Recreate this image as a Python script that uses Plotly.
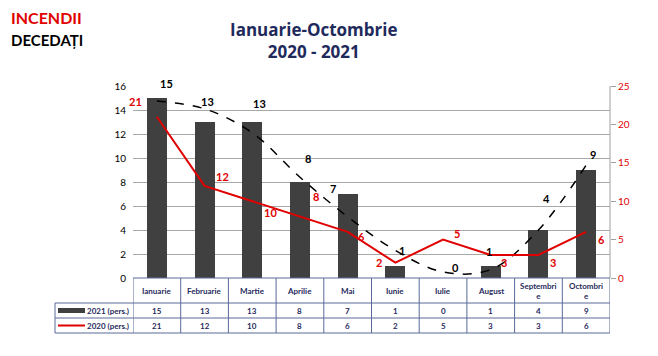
import plotly.graph_objects as go

months = ["Ianuarie", "Februarie", "Martie", "Aprilie", "Mai", "Iunie", "Iulie", "August", "Septembri<br>e", "Octombri<br>e"]
deaths_2021 = [15, 13, 13, 8, 7, 1, 0, 1, 4, 9]
deaths_2020 = [21, 12, 10, 8, 6, 2, 5, 3, 3, 6]
# polynomial trendline of 2021
trend_2021 = [14.75, 14.1, 12.1, 8.4, 5.1, 2.3, 0.5, 0.7, 4.0, 9.4]
left_ticks = [0, 2, 4, 6, 8, 10, 12, 14, 16]
right_ticks = [0, 5, 10, 15, 20, 25]
series_names = ["2021 (pers.)", "2020 (pers.)"]

# label offsets (px) for the data labels
off_2021 = [(10, 15), (3, 21), (7, 19), (8, 24), (-15, 6), (7, 16), (12, 11), (-2, 15), (8, 32), (7, 16)]
off_2020 = [(-21, 15), (18, 9), (18, -11), (16, 20), (14, -5), (-16, 0), (14, 6), (13, -8), (15, -8), (15, -8)]

NAVY = "#1f2a5c"
RED = "#e00000"
BAR = "#404040"
FONT = "Lato"

x = list(range(len(months)))

fig = go.Figure()
fig.add_trace(go.Bar(x=x, y=deaths_2021, width=0.42, marker=dict(color=BAR, line=dict(width=0)),
                     yaxis="y", showlegend=False))
fig.add_trace(go.Scatter(x=x, y=trend_2021, mode="lines", line=dict(color="black", width=1.5, dash="dash", shape="spline", smoothing=1.0),
                         yaxis="y", showlegend=False))
fig.add_trace(go.Scatter(x=x, y=deaths_2020, mode="lines", line=dict(color=RED, width=2),
                         yaxis="y2", showlegend=False))

ann = []
for i in x:
    dx, dy = off_2021[i]
    ann.append(dict(x=i, y=deaths_2021[i], xref="x", yref="y", text=str(deaths_2021[i]), showarrow=False,
                    xshift=dx, yshift=dy, font=dict(family=FONT, size=11, color="black")))
    dx, dy = off_2020[i]
    ann.append(dict(x=i, y=deaths_2020[i], xref="x", yref="y2", text=str(deaths_2020[i]), showarrow=False,
                    xshift=dx, yshift=dy, font=dict(family=FONT, size=11, color=RED)))

# table geometry in paper coords (plot: 192px high, 477px wide)
H = 192.0
W = 477.0
y_hdr = -25 / H
y_r1 = -40 / H
y_r2 = -55 / H
x_left = -78 / W

for i, m in enumerate(months):
    ann.append(dict(x=i, y=(0 + y_hdr) / 2, xref="x", yref="paper", text=m, showarrow=False,
                    font=dict(family=FONT, size=8, color=NAVY), yanchor="middle"))
    ann.append(dict(x=i, y=(y_hdr + y_r1) / 2, xref="x", yref="paper", text=str(deaths_2021[i]), showarrow=False,
                    font=dict(family=FONT, size=8, color=NAVY), yanchor="middle"))
    ann.append(dict(x=i, y=(y_r1 + y_r2) / 2, xref="x", yref="paper", text=str(deaths_2020[i]), showarrow=False,
                    font=dict(family=FONT, size=8, color=NAVY), yanchor="middle"))

ann.append(dict(x=-2 / W, y=(y_hdr + y_r1) / 2, xref="paper", yref="paper", text=series_names[0], showarrow=False,
                xanchor="right", yanchor="middle", font=dict(family=FONT, size=8, color=NAVY)))
ann.append(dict(x=-2 / W, y=(y_r1 + y_r2) / 2, xref="paper", yref="paper", text=series_names[1], showarrow=False,
                xanchor="right", yanchor="middle", font=dict(family=FONT, size=8, color=NAVY)))

# titles (positions relative to plot area)
fig_title = [
    dict(x=(314 - 133) / W, y=(278 - 40) / H, text="<b>Ianuarie-Octombrie<br>2020 - 2021</b>", size=17, color=NAVY,
         xanchor="center", family="Open Sans"),
    dict(x=(9 - 133) / W, y=(278 - 17) / H, text="<b>INCENDII</b>", size=16, color="#e00000", xanchor="left", family=FONT),
    dict(x=(9 - 133) / W, y=(278 - 40) / H, text="<b>DECEDAȚI</b>", size=15, color="black", xanchor="left", family=FONT),
]
for t in fig_title:
    ann.append(dict(x=t["x"], y=t["y"], xref="paper", yref="paper", text=t["text"], showarrow=False,
                    xanchor=t["xanchor"], yanchor="middle",
                    font=dict(family=t["family"], size=t["size"], color=t["color"])))

shapes = []
BORDER = "#5a6a9a"
# vertical lines of table
for b in [i - 0.5 for i in range(len(months) + 1)]:
    shapes.append(dict(type="line", xref="x", yref="paper", x0=b, x1=b, y0=0, y1=y_r2, line=dict(color=BORDER, width=1)))
shapes.append(dict(type="line", xref="paper", yref="paper", x0=x_left, x1=x_left, y0=y_hdr, y1=y_r2, line=dict(color=BORDER, width=1)))
# horizontal lines
shapes.append(dict(type="line", xref="paper", yref="paper", x0=0, x1=1, y0=0, y1=0, line=dict(color=BORDER, width=1)))
for yy in [y_hdr, y_r1, y_r2]:
    shapes.append(dict(type="line", xref="paper", yref="paper", x0=x_left, x1=1, y0=yy, y1=yy, line=dict(color=BORDER, width=1)))
# legend swatches
shapes.append(dict(type="rect", xref="paper", yref="paper", x0=(58 - 133) / W, x1=(85 - 133) / W,
                   y0=(y_hdr + y_r1) / 2 - 2.5 / H, y1=(y_hdr + y_r1) / 2 + 2.5 / H, fillcolor=BAR, line=dict(width=0)))
shapes.append(dict(type="line", xref="paper", yref="paper", x0=(58 - 133) / W, x1=(85 - 133) / W,
                   y0=(y_r1 + y_r2) / 2, y1=(y_r1 + y_r2) / 2, line=dict(color=RED, width=2)))
# right border of plot
shapes.append(dict(type="line", xref="paper", yref="paper", x0=1, x1=1, y0=0, y1=1, line=dict(color="#a0a0a0", width=1)))

# page body has an 8px margin: shift figure margins to compensate
fig.update_layout(
    width=658, height=356,
    margin=dict(l=125, r=56, t=78, b=86),
    paper_bgcolor="white", plot_bgcolor="white",
    bargap=0,
    xaxis=dict(range=[-0.5, 9.5], showticklabels=False, showgrid=False, zeroline=False, showline=False, ticks=""),
    yaxis=dict(range=[0, 16], tickvals=left_ticks, showgrid=True, gridcolor="#a8a8a8", gridwidth=1,
               zeroline=False, showline=False, ticks="",
               tickfont=dict(family=FONT, size=10, color="black"), ticklabelstandoff=6),
    yaxis2=dict(range=[0, 25], tickvals=right_ticks, overlaying="y", side="right", showgrid=False, zeroline=False,
                showline=False, ticks="outside", ticklen=5, tickcolor="#a0a0a0",
                tickfont=dict(family=FONT, size=10, color=RED)),
    annotations=ann,
    shapes=shapes,
    font=dict(family=FONT),
)
fig.update_yaxes(tickprefix="<b>", ticksuffix="</b>")
for a in fig.layout.annotations:
    if not a.text.startswith("<b>"):
        a.text = "<b>" + a.text + "</b>"

fig.write_html("out.html")
